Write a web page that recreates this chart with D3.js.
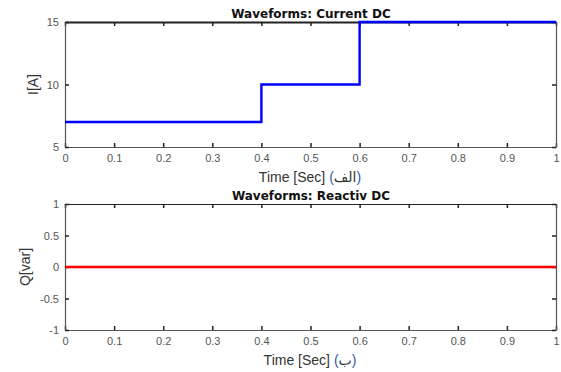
<!DOCTYPE html>
<html>
<head>
<meta charset="utf-8">
<script src="https://cdn.jsdelivr.net/npm/d3@7"></script>
<style>
  body { margin: 0; background: #fff; }
  svg { display: block; font-family: "Liberation Sans", Arial, sans-serif; }
</style>
</head>
<body>
<div id="chart"></div>
<script>
// step times and current values (top panel)
const currentTime = [0, 0.4, 0.6, 1];
const currentVals = [7, 10, 15, 15];
// reactive power (bottom panel)
const reactTime = [0, 1];
const reactVals = [0, 0];

const xTicks = [0, 0.1, 0.2, 0.3, 0.4, 0.5, 0.6, 0.7, 0.8, 0.9, 1];
const yTicksTop = [5, 10, 15];
const yTicksBot = [-1, -0.5, 0, 0.5, 1];

const width = 561, height = 372;
const svg = d3.select('#chart').append('svg').attr('width', width).attr('height', height);

const x = d3.scaleLinear().domain([0, 1]).range([65, 556]);
const fmt = d => String(+d.toFixed(1));

function panel(opts) {
  const y = d3.scaleLinear().domain(opts.domain).range([opts.bottom, opts.top]);
  const g = svg.append('g');

  // inward ticks, bottom + top
  const xb = g.append('g').attr('transform', `translate(0,${opts.bottom})`)
    .call(d3.axisBottom(x).tickValues(xTicks).tickSizeInner(-4).tickSizeOuter(0).tickPadding(7).tickFormat(fmt));
  const xt = g.append('g').attr('transform', `translate(0,${opts.top})`)
    .call(d3.axisTop(x).tickValues(xTicks).tickSizeInner(-4).tickSizeOuter(0).tickFormat(''));
  const yl = g.append('g').attr('transform', `translate(${x.range()[0]},0)`)
    .call(d3.axisLeft(y).tickValues(opts.yTicks).tickSizeInner(-4).tickSizeOuter(0).tickPadding(6).tickFormat(fmt));
  const yr = g.append('g').attr('transform', `translate(${x.range()[1]},0)`)
    .call(d3.axisRight(y).tickValues(opts.yTicks).tickSizeInner(-4).tickSizeOuter(0).tickFormat(''));

  [xb, xt, yl, yr].forEach(a => {
    a.select('.domain').attr('stroke', '#555').attr('stroke-width', 1.2);
    a.selectAll('.tick line').attr('stroke', '#222').attr('stroke-width', 1.5);
    a.selectAll('text').attr('fill', '#555').style('font-size', '11px')
      .style('font-family', '"Liberation Sans", Arial, sans-serif');
  });
  xt.select('.domain').attr('stroke', '#222').attr('stroke-width', opts.topLine || 1.2);

  const line = d3.line().x(d => x(d[0])).y(d => y(d[1])).curve(opts.curve);
  g.append('path')
    .datum(d3.zip(opts.xs, opts.ys))
    .attr('d', line)
    .attr('fill', 'none')
    .attr('stroke', opts.color)
    .attr('stroke-width', 2.4);

  // title
  g.append('text')
    .attr('x', 311).attr('y', opts.top - 4)
    .attr('text-anchor', 'middle')
    .style('font-family', '"DejaVu Sans", sans-serif')
    .style('font-weight', 'bold')
    .style('font-size', '12px')
    .attr('fill', '#111')
    .text(opts.title);

  // y label
  g.append('text')
    .attr('transform', `translate(${opts.ylabX},${(opts.top + opts.bottom) / 2}) rotate(-90)`)
    .attr('text-anchor', 'middle')
    .style('font-size', '14px')
    .attr('fill', '#333')
    .text(opts.ylabel);

  // x label
  const xl = g.append('text')
    .attr('x', 310).attr('y', opts.bottom + 35)
    .attr('text-anchor', 'middle')
    .style('font-size', '14px')
    .attr('fill', '#333');
  xl.append('tspan').text('Time [Sec] ');
  xl.append('tspan').attr('fill', '#2a5aa8').text('(');
  xl.append('tspan').style('font-family', '"DejaVu Sans", sans-serif').text(opts.tag);
  xl.append('tspan').attr('fill', '#2a5aa8').text(')');
}

panel({
  top: 22, bottom: 147, domain: [5, 15], yTicks: yTicksTop,
  xs: currentTime, ys: currentVals, curve: d3.curveStepAfter,
  color: '#0000ff', title: 'Waveforms: Current DC', ylabel: 'I[A]', ylabX: 38,
  tag: 'الف', topLine: 2
});

panel({
  top: 204, bottom: 330, domain: [-1, 1], yTicks: yTicksBot,
  xs: reactTime, ys: reactVals, curve: d3.curveLinear,
  color: '#ff0000', title: 'Waveforms: Reactiv DC', ylabel: 'Q[var]', ylabX: 30,
  tag: 'ب'
});
</script>
</body>
</html>
